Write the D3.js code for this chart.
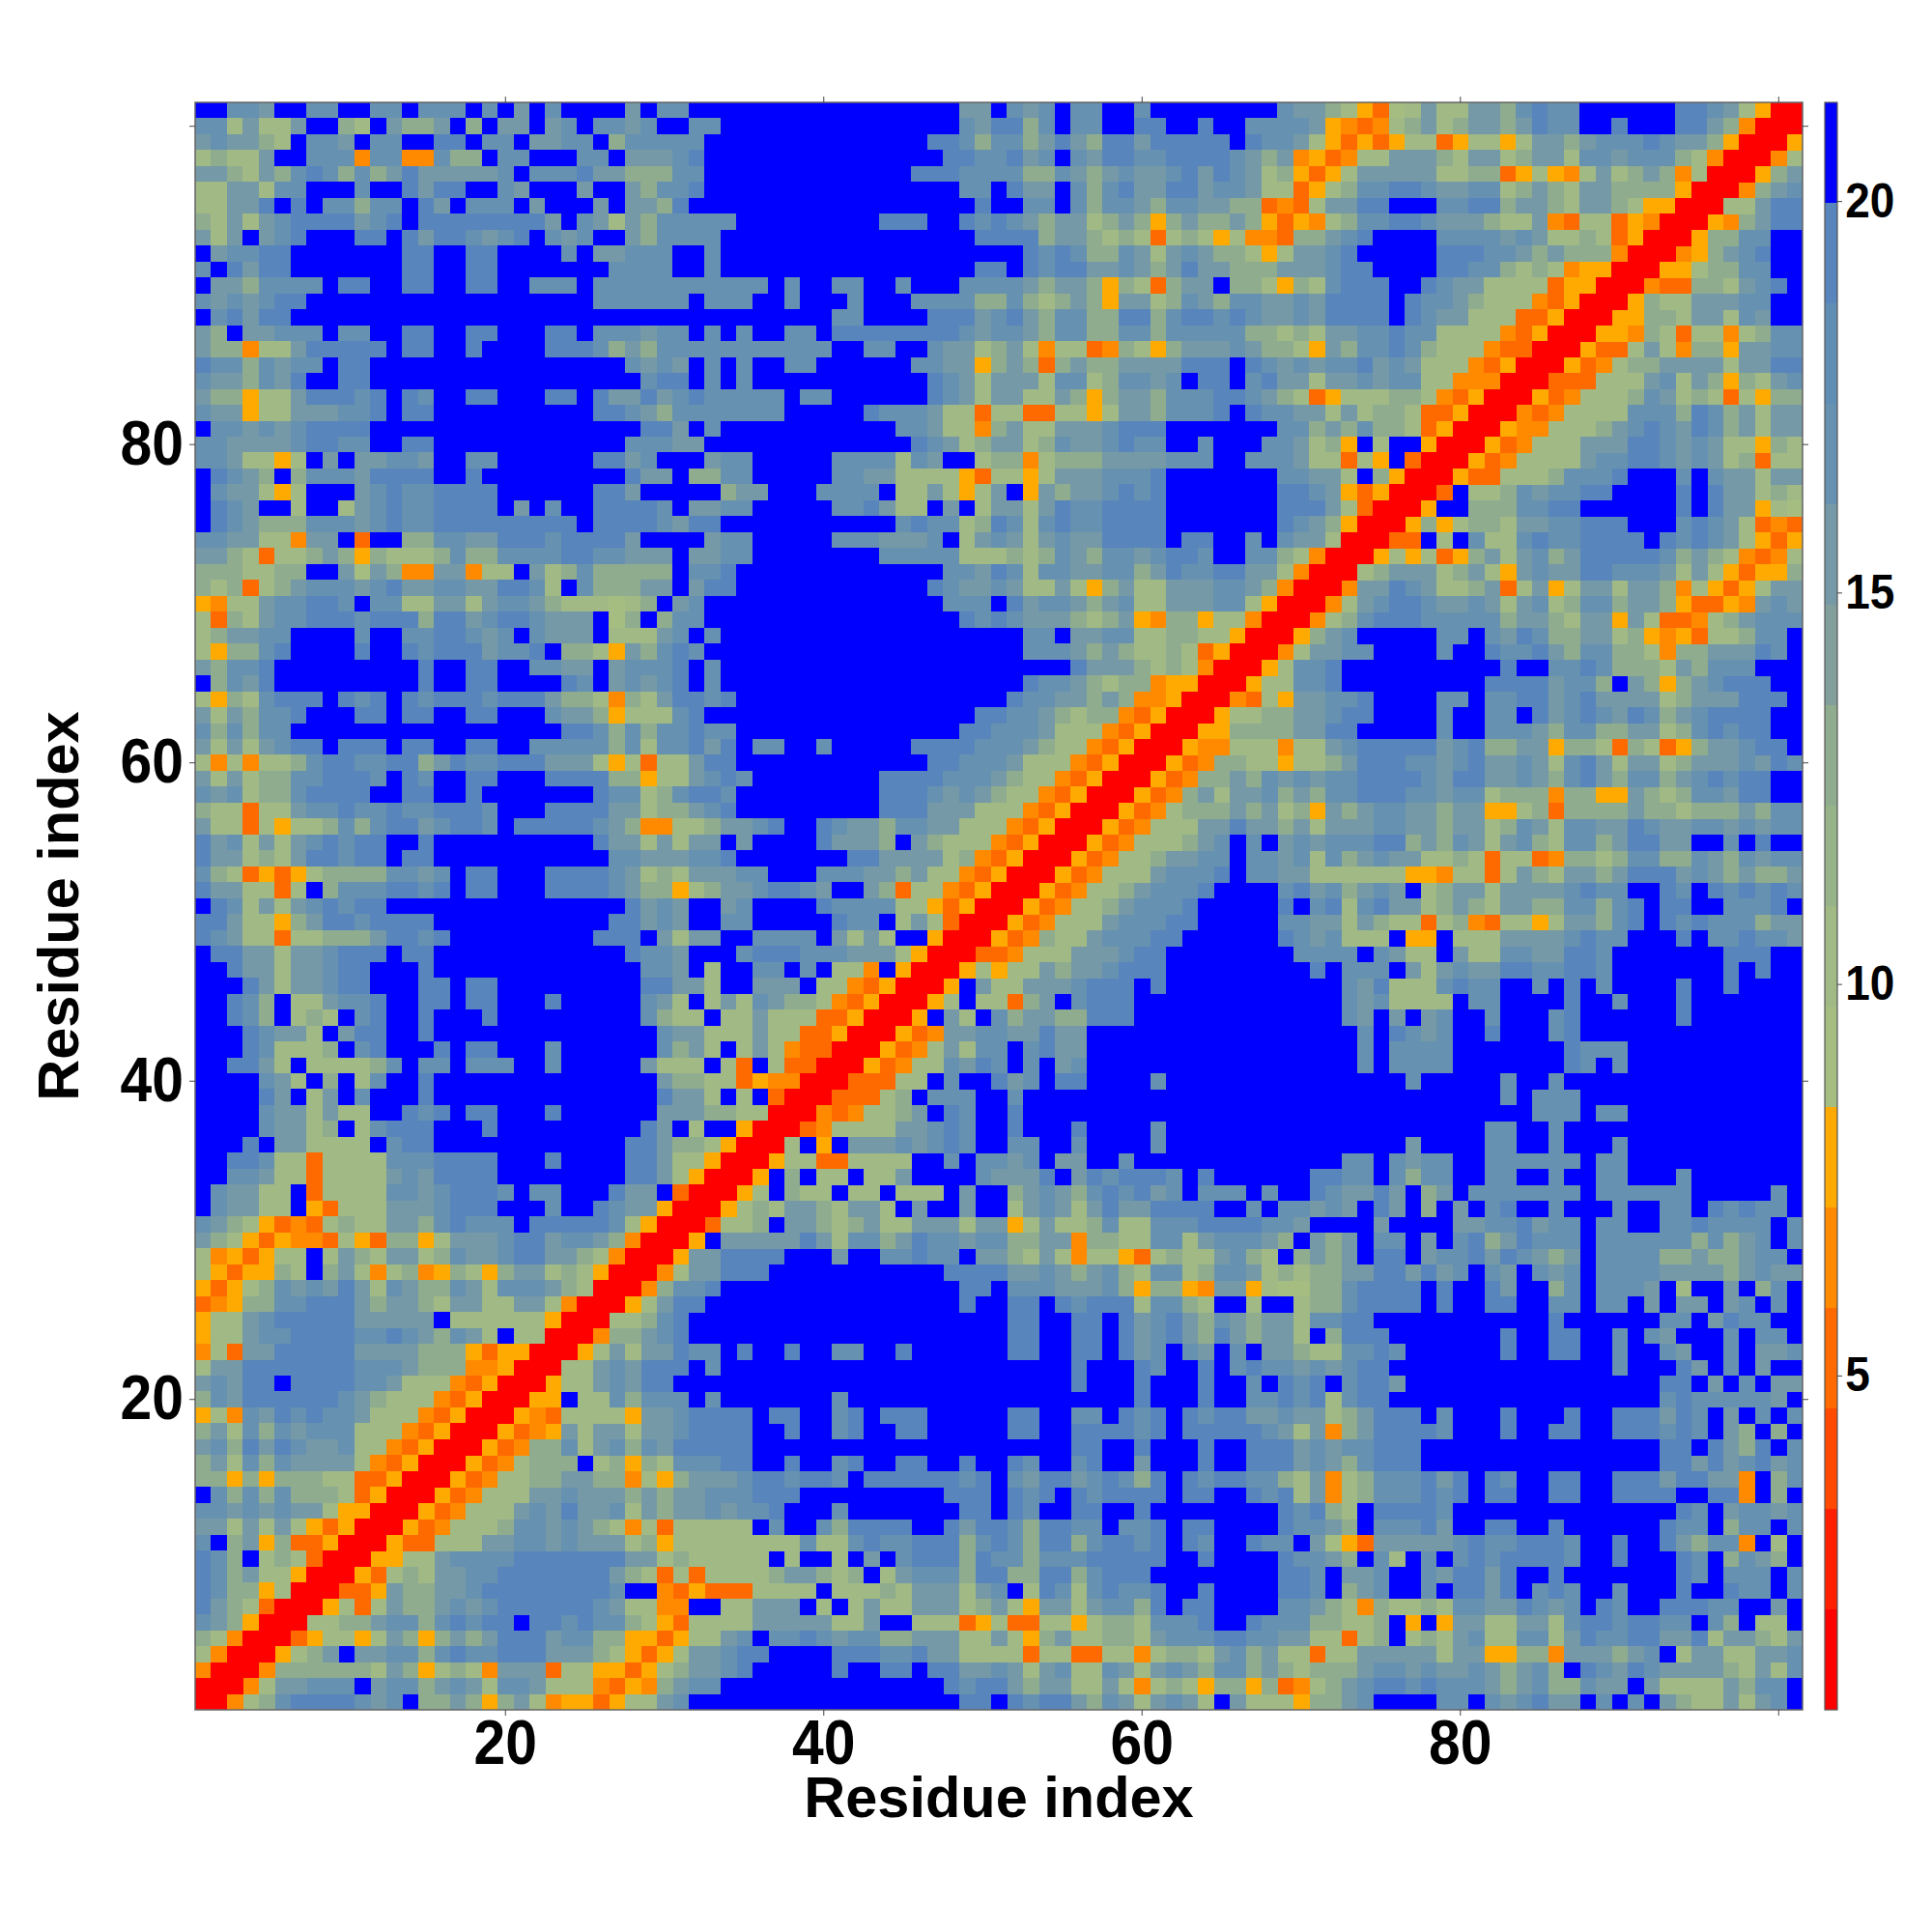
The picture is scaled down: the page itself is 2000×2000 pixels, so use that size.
<!DOCTYPE html>
<html>
<head>
<meta charset="utf-8">
<script src="https://cdn.jsdelivr.net/npm/d3@7"></script>
<style>
html,body{margin:0;padding:0;background:#fff}
text{font-family:"Liberation Sans",Arial,sans-serif;font-weight:bold;fill:#000}
</style>
</head>
<body>
<svg id="chart" width="2000" height="2000"></svg>
<script>
// Distance matrix (symmetric): one string per residue, columns 1..residue.
// Character = colour band, x{n} = run of n cells.
const rowsTop = [ // residues 101 down to 68
"ffddcffddffddfdddfdfcfdffffcfddfff"+"f{14}ccfdcdfddffdf{8}"+"dccba538acaaccbdeddf{6}eedca500",
"ddacaacffbafcbbcfbfccfcdfddcdffddf"+"f{14}dceebdfddffeeffeffdd"+"ddc5434abcabccbceddffefffeecb400",
"cdccbafddcfddffeefddfccddfbdddddff"+"f{12}eedbddbcecbeeceeeeefed"+"dca53535aa35aa5accbcdddedccb500",
"abaacffddd4dd44dbbfddfffddfcccdeff"+"f{13}eeddecdfdceeddeeeedcb"+"c4534aacccbaccabccaddcdddba400",
"ccbacbdedbdbcecccccdfdddeccbbbddff"+"f{11}eeeddddbbdcbcdccdecedca"+"b535acccccaabb35a54acabcb4a00",
"aaccaddfffdffeceeffdcfffcffcbddeff"+"f{14}ddfeccfdbdecceecddca"+"a35abddeedccddabcbaccbbbb500",
"aaccefefddbddfecfdddfcfffcfccbefff"+"f{15}effddfdbddcbddccbb3"+"43acceefffddeebccbaccba5500",
"bacacdeeeecdefeeeeeeeecfdcacbddddd"+"f{9}eeeffededcbccabcb5bcbbcb5"+"354abddeedcccbaac43aa35400",
"cacfcdefffeefeceedcdefdcdffcbddddf"+"f{15}eeeebccbaba3aba5a44"+"3bbcdeffffddddcdcaaba3500",
"fcddeefffffffeeffeeffffdfccdddffdf"+"f{18}ededbbdcacdcbba5"+"accdefffffeeeddcbcbbb400",
"dfeceefffffffeeffeefffffffddddffdf"+"f{15}eefedeeccdcbceccbbb"+"cccdeeffffeeddbaba45500",
"fccbddddfeeffeeffeeffdddfddddddddd"+"ddfdffddffdfffddddcbccb5ba3bccfbba"+"5badeeeffedccaaaa35500",
"dcdcdeef{18}ddddddfdd"+"dffdfffdfffddddbbdbabcb5ccabdcbddc"+"cdceeeefeddcbaaa43500",
"fdeceef{28}"+"f{6}ddffffeeecdecbddbbeebdeededc"+"cdceeeefedccaaa33500",
"cbfccdddfddffeeffeefffeefdddcddfdf"+"dffddfe{8}dcddcbddbbddbdddddbb"+"abaccddeddaaaa43500",
"cbb4aaceeeeefeeffeffffeeedbcbddddd"+"ddddddffddffdccabca4aa34ba5bcccdcb"+"ba5cbddedbaaa43300",
"eddbdcddfeef{16}dcdcfdf"+"dffddf{6}ddcc5bcb3bcbbcccceeefed"+"cdcddecdcaaa43500",
"dccbdceffeef{17}deefdf"+"df{11}edcacccaddabddcdfeefde"+"ccaccdcddaa44400",
"cbb5aaceeedefedffeefffeefeccecdedd"+"dddfddf{6}edcaccaacb5bccbdddeedc"+"ba35aaabba43500",
"dcc5aacccddefeef{10}eedcbdddd"+"dddf{5}edddcaa3aa33aa5accbdddefed"+"dccacabba33500",
"fddcdcdeeeef{17}eecfdf"+"f{10}ddcaa4bcaacccdeeef{7}"+"ddbcbdbba3500",
"ddccccdeeddffeef{12}dddccff"+"f{11}edcabccabdccdeddffdfffd"+"dcab5faff500",
"ddcaa5afcfccddcffddf{6}eecdfffcd"+"df{5}ddddadcffabb4abbbccccdddffdd"+"dcaa3a5f300",
"fedcbfbdddceeeeffef{9}eccfbbd"+"df{5}ddccaaaa53aa5acccdddef{7}"+"ddccafb500",
"fdcca5afffcdeddeeeef{6}eecf{5}b"+"ccfffddddfaaca5acf5cbccdedef{7}"+"eedc53500",
"fedcffaffacdeddeeeefcfdffeeeedfccd"+"df{5}ddecaafcfaccaceddeeeef{7}"+"eeeca300",
"fedcbbbdddcdeddeeeeeeeeefeeeedceef"+"f{10}deddabedadeddeeeef{7}"+"edcb500",
"ddccaa4ccf3ffbbddcceeedeeeecffffcd"+"df{5}dddcccdfacdcacdcceeeefeeffdf"+"dcca00",
"ccba3aabcb5baaabdbbddddeeddcccfccd"+"df{8}dddddaaababdcbddcdeedffdd"+"ba400",
"bbbaabbffc8cb44cc4aafcabdbbbbbfdde"+"f{13}ddcedaddccddbceddeecc"+"a400",
"bab3abcdddcdeccddcceedafdbbbccfcee"+"f{12}edccdcaaca5bcaacccddcb"+"400",
"54aacddeedfddaaccacddcbaaa8abfcdff"+"f{13}dddfecddcbcdaacccdda5"+"00",
"a3bacddeeedeeebeecdeedcccf8bfbddff"+"f{14}ededcccbabc54bb5aa40"+"0",
"abccddffffdffddeedcdfdcccfaaacdfdf"+"f{18}ddfccddaabbaa500"
];
const rowsMiddle = [ // residues 67 down to 34
"a5bbdeffffeffedeeecddefbba5cbdedff"+"f{18}dddcbcbaaba3500",
"cbddef{9}effeeffddccfcdddefdf"+"f{21}ecccbaba400",
"fbdcef{9}effeeffffedfcdcdefdf"+"f{18}eddcbabb45500",
"a5badeeefedefedeeedeeecbba4baceede"+"f{17}eddccbcb44500",
"cacbddefffeefeeffeefffdccb5aaadeff"+"f{15}eeddcbabb43500",
"dbdbddf{17}eedbdbddedd"+"f{14}eedddcaaa43500",
"cacacdeefeeefeeffeeffdddddbdaddece"+"fddffdf{5}eeeedddcbaa43500",
"a4a4aabdeeddeebceddeeeccca5a3aacee"+"f{12}eedddcaaa43500",
"cacabbddeeedfedffeefffeeeebb5aacde"+"df{8}eeeedddcbaa43500",
"dcdabbdeeeeffeeffef{7}eddabdeed"+"f{9}eeedcdcbaa43500",
"baa3aacddeddeddeeedfffeeeeccabbcde"+"f{9}eeecccaaa43500",
"caa3a5aabdbdeecdeedfeeeeedcb44aabc"+"cdeffedccbddccaaa43500",
"ecdacacdedeeffef{10}eccacaccf"+"cffffecccbfcbaaa43500",
"eccabaceedeefeef{11}ddcccdde"+"f{7}eeccccab43500",
"dba3535abbbbddcdfeefffeeeedcabaccc"+"ddfffdddccbcaa43500",
"eccaa3afbdddeedefeefffeeeedcbb5abc"+"cdeedcffcb3aa43500",
"fedacacdedeef{15}ecdcffc"+"dffffeddddaa53500",
"eecaa5bceedeeeef{11}eecdcffd"+"df{5}eddfaca300",
"edcaa3aabbbceedef{9}eeefcaccf"+"fddddfcacaff500",
"feeccaccdeeefeef{12}eddcfff"+"deeedddccca500",
"ffeccaccdeefffef{13}ddcfaf"+"fddfdfaa4f500",
"fffecaccdeefffeefeef{9}eeccaf"+"fcccfaa43500",
"ffedbfaacddeffeefeefffef{5}dcafac"+"adcbba43500",
"ffedbfabafdeffefffef{9}dbaafa"+"acaaa33500",
"fffedccafceeffef{14}dccaa"+"acaa33500",
"fffedaaabfdefffefeefffdf{6}dbcaf"+"aca43300",
"ffeecafaaaabdfddfdddffdf{5}caaafa"+"3fa3300",
"ffffdcafbfadffef{14}cbbaa"+"354400",
"ffffecfacfdfffef{14}eccaf"+"af300",
"ffffdccacaaffedefeefffef{6}cccbb"+"aa00",
"ffffdccabfadeeefffef{9}ecfaff"+"500",
"fffefccaaaafdeef{12}eecbba5"+"00",
"ffeedaa3aaaadddeeeefffeffffeecaa50"+"0",
"ffddcaa3aaaacdceeeef{8}eeca500"
];
const rowsBottom = [ // residues 33 down to 1
"fdccaaf3aaaaddcdeeedfddfffeccf300",
"fdccaaf53aaacccdeeefffdffedcc500",
"dcba5343abaaccbdedddfeeeeeda500",
"cba535443a53bb5acccdeecddcb400",
"a4535aafacbaccabdccdeeccba400",
"a5355bafbca4ab45ba5bccaba500",
"535abdcdcecadcbbdcadddcba00",
"345bbddeeecbccbaccaacca400",
"5aacdeeeeecccccfaaaaaa500",
"5aacddeeeeddedcbdcafaa00",
"4a3cceeeeeccccbbb535500",
"acceeeeeeedddcbbb44500",
"cdceefeeeeddcaaa43500",
"bdceeeeeedcbaaa43500",
"5a4dcededdcaaa43500",
"bcadbdcdddaaa43500",
"cdbecedccdaa43500",
"bcadbdcccca43500",
"bb5b5bbbaa33500",
"fdbdbdbbba3500",
"ddcdcdcca5500",
"ccacaca53500",
"dfbc5b33500",
"edbfaba300",
"edbcaa500",
"edbb5a00",
"ecba300",
"dcb500",
"ba400",
"a400",
"400",
"00",
"0"
];
const bandKeys = ["0","1","2","3","4","5","8","a","9","b","6","c","d","7","e","f"];
const bandColors = ["#ff0000","#ff2000","#ff4a00","#ff6a00","#ff8a00","#ffaa00","#a6bd82","#a0b985","#97b389","#8fac8f","#829f9c","#7599a6","#6691b0","#608db4","#5885bb","#0000ff"];
const axisTicks = [20,40,60,80,100];
const axisLabelled = [20,40,60,80];
const barTicks = [5,10,15,20];
const barDomain = [0.73,21.26];
const axisTitle = "Residue index";

const expand = s => s.replace(/(.)\{(\d+)\}/g,(m,c,n)=>c.repeat(+n));
const rows = rowsTop.concat(rowsMiddle,rowsBottom).map(expand);
const cells = [];
rows.forEach((s,k)=>{
  const y = 101-k;
  for(let i=0;i<s.length;i++){
    const x = i+1;
    cells.push({x,y,key:s[i]});
    if(x!==y) cells.push({x:y,y:x,key:s[i]});
  }
});

const L=202,R=1866,T=106,B=1770;
const residues = d3.range(1,102);
const x = d3.scaleBand().domain(residues).range([L,R]);
const y = d3.scaleBand().domain(residues).range([B,T]);
const color = d3.scaleOrdinal(bandKeys,bandColors);

const svg = d3.select("#chart");
svg.append("g").selectAll("rect").data(cells).join("rect")
  .attr("x",d=>x(d.x)).attr("y",d=>y(d.y))
  .attr("width",x.bandwidth()+0.4).attr("height",y.bandwidth()+0.4)
  .attr("fill",d=>color(d.key)).attr("shape-rendering","crispEdges");

svg.append("rect").attr("x",L).attr("y",T).attr("width",R-L).attr("height",B-T)
  .attr("fill","none").attr("stroke","#666").attr("stroke-width",1.5);

const fmt = d => axisLabelled.includes(d) ? d : "";
function styleAxis(g,size){
  g.select(".domain").remove();
  g.selectAll("line").attr("stroke","#444").attr("stroke-width",1);
  g.selectAll("text").attr("font-size",size).attr("transform","scale(0.92,1)");
}
svg.append("g").attr("transform",`translate(0,${B})`)
  .call(d3.axisBottom(x).tickValues(axisTicks).tickFormat(fmt).tickSize(6).tickPadding(5))
  .call(styleAxis,64).attr("font-family",null);
svg.append("g").attr("transform",`translate(${L},0)`)
  .call(d3.axisLeft(y).tickValues(axisTicks).tickFormat(fmt).tickSize(6).tickPadding(7))
  .call(styleAxis,64).attr("font-family",null);
svg.append("g").attr("transform",`translate(0,${T})`)
  .call(d3.axisTop(x).tickValues(axisTicks).tickFormat("").tickSize(6))
  .call(styleAxis,64).attr("font-family",null);
svg.append("g").attr("transform",`translate(${R},0)`)
  .call(d3.axisRight(y).tickValues(axisTicks).tickFormat("").tickSize(6))
  .call(styleAxis,64).attr("font-family",null);

svg.append("text").attr("x",(L+R)/2).attr("y",1881).attr("text-anchor","middle")
  .attr("font-size",59.5).text(axisTitle);
svg.append("text").attr("transform",`translate(81,${(T+B)/2}) rotate(-90)`).attr("text-anchor","middle")
  .attr("font-size",59.5).text(axisTitle);

// Colour bar
const barL=1889,barR=1902;
const barY = d3.scaleBand().domain(d3.range(bandColors.length)).range([B,T]);
svg.append("g").selectAll("rect").data(bandColors).join("rect")
  .attr("x",barL).attr("width",barR-barL)
  .attr("y",(d,i)=>barY(i)).attr("height",barY.bandwidth()+0.4)
  .attr("fill",d=>d).attr("shape-rendering","crispEdges");
svg.append("rect").attr("x",barL).attr("y",T).attr("width",barR-barL).attr("height",B-T)
  .attr("fill","none").attr("stroke","#555").attr("stroke-width",1.2);
const barScale = d3.scaleLinear().domain(barDomain).range([B,T]);
svg.append("g").attr("transform",`translate(${barR},0)`)
  .call(d3.axisRight(barScale).tickValues(barTicks).tickFormat(d3.format("d")).tickSize(5).tickPadding(4))
  .call(styleAxis,50).attr("font-family",null);
</script>
</body>
</html>
